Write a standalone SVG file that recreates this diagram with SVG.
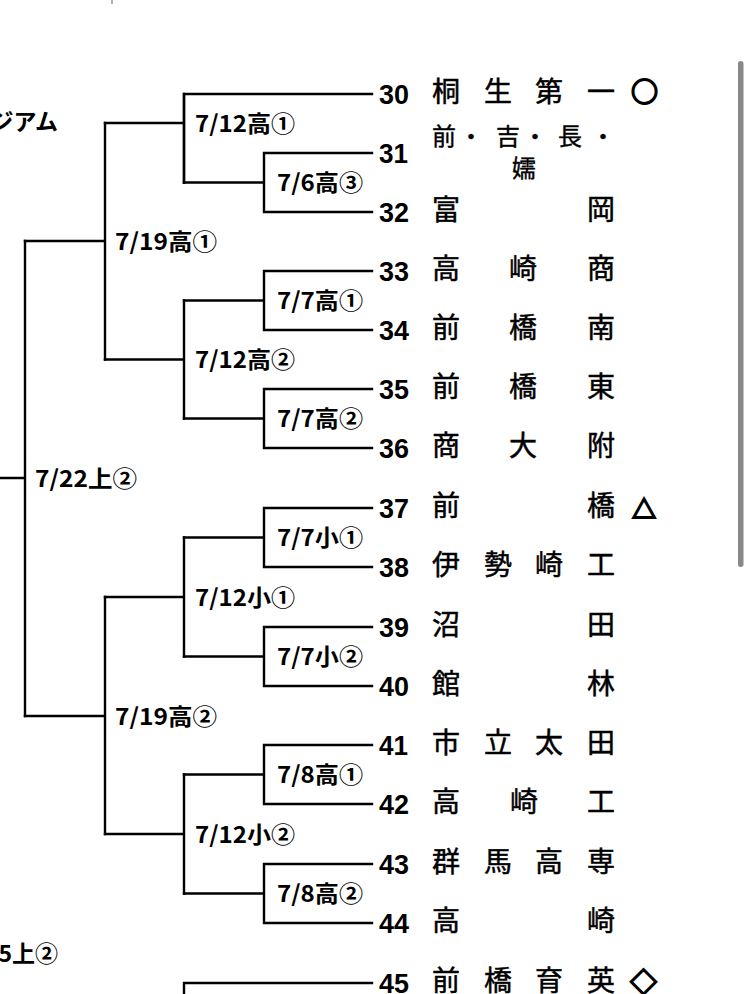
<svg xmlns="http://www.w3.org/2000/svg" width="750" height="994" viewBox="0 0 750 994">
<style>
.ln{fill:none;stroke:#000;stroke-width:2.4;stroke-linecap:square}
.lb{font-family:"Noto Sans CJK JP","Noto Sans",sans-serif;font-weight:bold;font-size:23px;fill:#000}
.no{font-family:"Liberation Sans","Noto Sans",sans-serif;font-weight:bold;font-size:27px;fill:#000}
.nm{font-family:"Noto Sans CJK JP","Noto Sans",sans-serif;font-size:28px;fill:#000;stroke:#000;stroke-width:0.5}
.nm2{font-family:"Noto Sans CJK JP","Noto Sans",sans-serif;font-size:24px;fill:#000;stroke:#000;stroke-width:0.4}
.sy{font-family:"Noto Sans CJK JP","DejaVu Sans",sans-serif;fill:#000;stroke:#000;stroke-width:1.8;font-weight:bold}
</style>
<rect width="750" height="994" fill="#fff"/>
<line x1="112" y1="0" x2="112" y2="4" stroke="#b0b0b0" stroke-width="2"/>
<rect x="738" y="61" width="5.5" height="506" rx="2.7" fill="#888"/>
<text class="lb" x="58" y="130" text-anchor="end">ジアム</text>
<text class="lb" x="58" y="962" text-anchor="end">5上②</text>

<g id="connectors">
<path class="ln" d="M372 94H184V182.5"/>
<path class="ln" d="M372 153H264V212H372M264 182.5H184"/>
<path class="ln" d="M184 182.5V94M184 123H105"/>
<path class="ln" d="M372 271H264V330H372M264 300.5H184"/>
<path class="ln" d="M372 389H264V448H372M264 418.5H184"/>
<path class="ln" d="M184 300.5V418.5M184 359.5H105"/>
<path class="ln" d="M105 123V359.5M105 241H25"/>
<path class="ln" d="M372 508H264V567H372M264 537.5H184"/>
<path class="ln" d="M372 627H264V686H372M264 656.5H184"/>
<path class="ln" d="M184 537.5V656.5M184 597H105"/>
<path class="ln" d="M372 745H264V804H372M264 774.5H184"/>
<path class="ln" d="M372 864H264V923H372M264 893.5H184"/>
<path class="ln" d="M184 774.5V893.5M184 834H105"/>
<path class="ln" d="M105 597V834M105 716H25"/>
<path class="ln" d="M25 241V716M25 478H-2"/>
<path class="ln" d="M372 983H184V996"/>
</g>

<g id="labels">
<text class="lb" x="195" y="131.5" textLength="100" lengthAdjust="spacingAndGlyphs">7/12高①</text>
<text class="lb" x="277" y="191" textLength="86" lengthAdjust="spacingAndGlyphs">7/6高③</text>
<text class="lb" x="115" y="249.5" textLength="102" lengthAdjust="spacingAndGlyphs">7/19高①</text>
<text class="lb" x="277" y="309" textLength="86" lengthAdjust="spacingAndGlyphs">7/7高①</text>
<text class="lb" x="195" y="368" textLength="100" lengthAdjust="spacingAndGlyphs">7/12高②</text>
<text class="lb" x="277" y="427" textLength="86" lengthAdjust="spacingAndGlyphs">7/7高②</text>
<text class="lb" x="35" y="487" textLength="102" lengthAdjust="spacingAndGlyphs">7/22上②</text>
<text class="lb" x="277" y="546" textLength="86" lengthAdjust="spacingAndGlyphs">7/7小①</text>
<text class="lb" x="195" y="605.5" textLength="100" lengthAdjust="spacingAndGlyphs">7/12小①</text>
<text class="lb" x="277" y="665" textLength="86" lengthAdjust="spacingAndGlyphs">7/7小②</text>
<text class="lb" x="115" y="724.5" textLength="102" lengthAdjust="spacingAndGlyphs">7/19高②</text>
<text class="lb" x="277" y="783" textLength="86" lengthAdjust="spacingAndGlyphs">7/8高①</text>
<text class="lb" x="195" y="842.5" textLength="100" lengthAdjust="spacingAndGlyphs">7/12小②</text>
<text class="lb" x="277" y="902" textLength="86" lengthAdjust="spacingAndGlyphs">7/8高②</text>
</g>

<g id="team30"><text class="no" x="379" y="103.5" textLength="30" lengthAdjust="spacingAndGlyphs">30</text><text class="nm" x="432 484 535 587" y="102">桐生第一</text><text class="sy" x="631" y="102" font-size="27">○</text></g>
<g id="team31"><text class="no" x="379" y="162.5" textLength="29" lengthAdjust="spacingAndGlyphs">31</text><text class="nm2" x="432 459 496 523 558 591" y="145">前・吉・長・</text><text class="nm2" x="512" y="177">嬬</text></g>
<g id="team32"><text class="no" x="379" y="221.5" textLength="30" lengthAdjust="spacingAndGlyphs">32</text><text class="nm" x="432 587" y="220">富岡</text></g>
<g id="team33"><text class="no" x="379" y="280.5" textLength="30" lengthAdjust="spacingAndGlyphs">33</text><text class="nm" x="432 509 587" y="279">高崎商</text></g>
<g id="team34"><text class="no" x="379" y="339.5" textLength="30" lengthAdjust="spacingAndGlyphs">34</text><text class="nm" x="432 509 587" y="338">前橋南</text></g>
<g id="team35"><text class="no" x="379" y="398.5" textLength="30" lengthAdjust="spacingAndGlyphs">35</text><text class="nm" x="432 509 587" y="397">前橋東</text></g>
<g id="team36"><text class="no" x="379" y="457.5" textLength="30" lengthAdjust="spacingAndGlyphs">36</text><text class="nm" x="432 509 587" y="456">商大附</text></g>
<g id="team37"><text class="no" x="379" y="517.5" textLength="30" lengthAdjust="spacingAndGlyphs">37</text><text class="nm" x="432 587" y="516">前橋</text><text class="sy" x="632" y="518" font-size="24">△</text></g>
<g id="team38"><text class="no" x="379" y="576.5" textLength="30" lengthAdjust="spacingAndGlyphs">38</text><text class="nm" x="432 484 535 587" y="575">伊勢崎工</text></g>
<g id="team39"><text class="no" x="379" y="636.5" textLength="30" lengthAdjust="spacingAndGlyphs">39</text><text class="nm" x="432 587" y="635">沼田</text></g>
<g id="team40"><text class="no" x="379" y="695.5" textLength="30" lengthAdjust="spacingAndGlyphs">40</text><text class="nm" x="432 587" y="694">館林</text></g>
<g id="team41"><text class="no" x="379" y="754.5" textLength="29" lengthAdjust="spacingAndGlyphs">41</text><text class="nm" x="432 484 535 587" y="753">市立太田</text></g>
<g id="team42"><text class="no" x="379" y="813.5" textLength="30" lengthAdjust="spacingAndGlyphs">42</text><text class="nm" x="432 510 587" y="812">高崎工</text></g>
<g id="team43"><text class="no" x="379" y="873.5" textLength="30" lengthAdjust="spacingAndGlyphs">43</text><text class="nm" x="432 484 535 587" y="872">群馬高専</text></g>
<g id="team44"><text class="no" x="379" y="932.5" textLength="30" lengthAdjust="spacingAndGlyphs">44</text><text class="nm" x="432 587" y="931">高崎</text></g>
<g id="team45"><text class="no" x="379" y="992.5" textLength="30" lengthAdjust="spacingAndGlyphs">45</text><text class="nm" x="432 484 535 587" y="991">前橋育英</text><text class="sy" x="630" y="992" font-size="27">◇</text></g>
</svg>
